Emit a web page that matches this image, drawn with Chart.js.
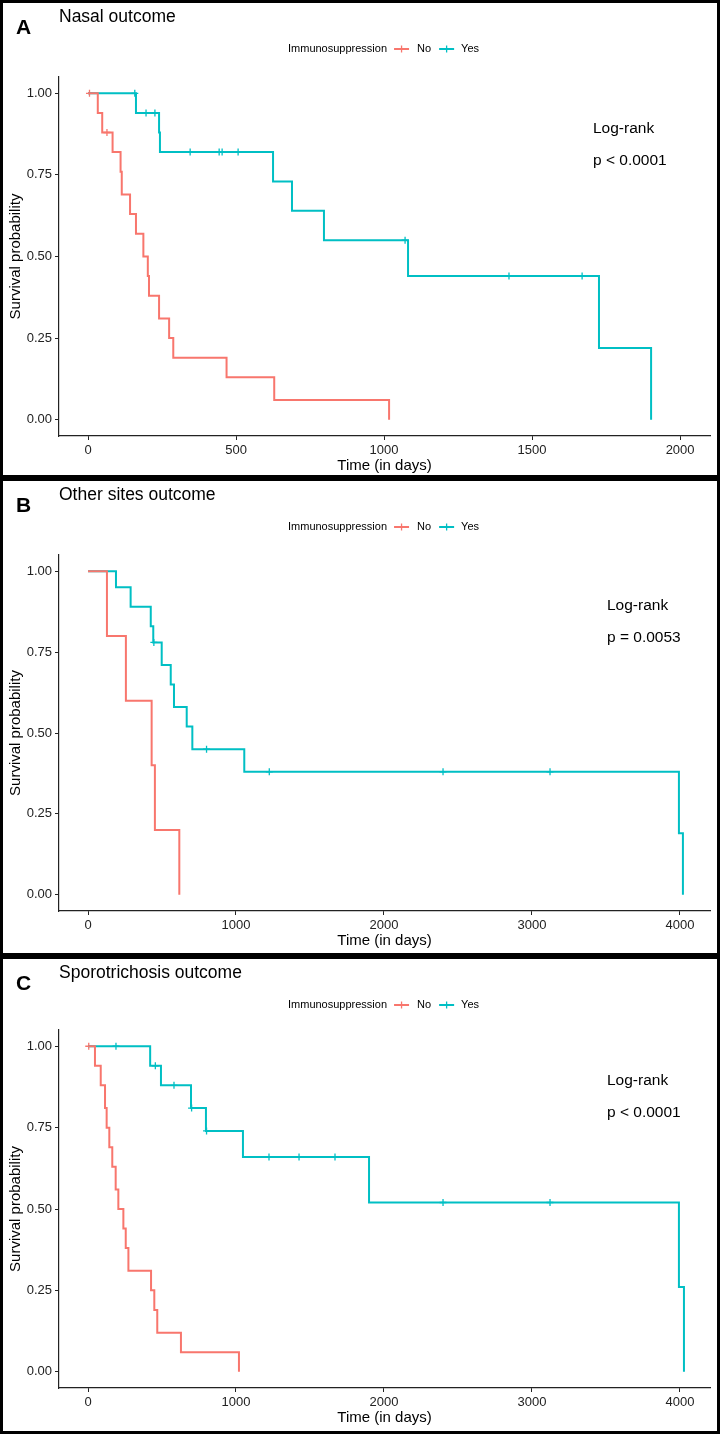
<!DOCTYPE html>
<html>
<head>
<meta charset="utf-8">
<script src="https://cdn.jsdelivr.net/npm/chart.js@4.4.1/dist/chart.umd.min.js"></script>
<style>
  html, body { margin: 0; padding: 0; background: #fff; }
  #page { position: relative; width: 720px; height: 1434px; }
  .panel { position: absolute; left: 0; width: 720px; height: 478px; box-sizing: border-box; border: 3px solid #000; background: #fff; }
  .panel canvas { position: absolute; left: 0; top: 0; width: 714px; height: 472px; }
</style>
</head>
<body>
<div id="page">
  <div class="panel" style="top:0"><canvas id="chartA" width="714" height="472"></canvas></div>
  <div class="panel" style="top:478px"><canvas id="chartB" width="714" height="472"></canvas></div>
  <div class="panel" style="top:956px"><canvas id="chartC" width="714" height="472"></canvas></div>
</div>
<script>
// ---- data (time in days, survival probability) ----

// A: nasal
const nasalNoTime = [0, 33, 48, 83, 110, 114, 142, 162, 187, 202, 206, 240, 274, 288, 468, 629, 1017]
const nasalNoSurv = [1, 0.94, 0.88, 0.82, 0.76, 0.69, 0.63, 0.57, 0.50, 0.44, 0.38, 0.31, 0.25, 0.19, 0.13, 0.06, 0]
const nasalNoCens = [5, 64]
const nasalYesTime = [0, 162, 240, 243, 625, 689, 797, 1081, 1726, 1902]
const nasalYesSurv = [1, 0.94, 0.88, 0.82, 0.73, 0.64, 0.55, 0.44, 0.22, 0]
const nasalYesCens = [158, 196, 226, 345, 443, 453, 507, 1071, 1422, 1669]
const nasalTicks = [0, 500, 1000, 1500, 2000]

// B: other sites
const otherNoTime = [0, 128, 256, 430, 452, 617]
const otherNoSurv = [1, 0.8, 0.6, 0.4, 0.2, 0]
const otherNoCens = []
const otherYesTime = [0, 189, 288, 424, 441, 498, 559, 581, 667, 705, 1056, 3993, 4020]
const otherYesSurv = [1, 0.95, 0.89, 0.83, 0.78, 0.71, 0.65, 0.58, 0.52, 0.45, 0.38, 0.19, 0]
const otherYesCens = [445, 801, 1225, 2399, 3122]
const otherTicks = [0, 1000, 2000, 3000, 4000]

// C: sporotrichosis
const sporoNoTime = [0, 47, 86, 115, 126, 144, 164, 187, 205, 239, 255, 273, 426, 448, 468, 628, 1020]
const sporoNoSurv = [1, 0.94, 0.88, 0.81, 0.75, 0.69, 0.63, 0.56, 0.50, 0.44, 0.38, 0.31, 0.25, 0.19, 0.12, 0.06, 0]
const sporoNoCens = [5]
const sporoYesTime = [0, 420, 493, 696, 797, 1047, 1899, 3993, 4027]
const sporoYesSurv = [1, 0.94, 0.88, 0.81, 0.74, 0.66, 0.52, 0.26, 0]
const sporoYesCens = [189, 455, 581, 700, 801, 1223, 1426, 1669, 2399, 3122]
const sporoTicks = [0, 1000, 2000, 3000, 4000]

const yTicks = [0, 0.25, 0.5, 0.75, 1]

// ---- styling ----
const FONT = "'Liberation Sans', Arial, sans-serif"
const RED = '#F8766D'
const CYAN = '#00BFC4'
const AXIS = '#222'

const panels = [
  { canvas: 'chartA', letter: 'A', title: 'Nasal outcome', pText: 'p < 0.0001',
    no: [nasalNoTime, nasalNoSurv, nasalNoCens], yes: [nasalYesTime, nasalYesSurv, nasalYesCens],
    xMin: -98, xMax: 2101, xTicks: nasalTicks, top: 74, axisH: 39, pX: 590, pY: 130, xTitleY: 467 },
  { canvas: 'chartB', letter: 'B', title: 'Other sites outcome', pText: 'p = 0.0053',
    no: [otherNoTime, otherNoSurv, otherNoCens], yes: [otherYesTime, otherYesSurv, otherYesCens],
    xMin: -196, xMax: 4203, xTicks: otherTicks, top: 74, axisH: 42, pX: 604, pY: 129, xTitleY: 464 },
  { canvas: 'chartC', letter: 'C', title: 'Sporotrichosis outcome', pText: 'p < 0.0001',
    no: [sporoNoTime, sporoNoSurv, sporoNoCens], yes: [sporoYesTime, sporoYesSurv, sporoYesCens],
    xMin: -196, xMax: 4203, xTicks: sporoTicks, top: 71, axisH: 43, pX: 604, pY: 126, xTitleY: 463 },
]

// survival at time t from the step curve
const survAt = (times, surv, t) => {
  let s = surv[0]
  times.forEach((tt, i) => { if (tt <= t) s = surv[i] })
  return s
}

const curve = (times, surv, color) => ({
  data: times.map((t, i) => ({ x: t, y: surv[i] })),
  borderColor: color,
  borderWidth: 2,
  stepped: true,
  pointRadius: 0,
  fill: false,
})

const censMarks = (times, surv, cens, color) => ({
  data: cens.map(t => ({ x: t, y: survAt(times, surv, t) })),
  showLine: false,
  pointStyle: 'cross',
  pointRadius: 3.5,
  borderColor: color,
  pointBorderWidth: 1.3,
})

const textPlugin = {
  id: 'panelText',
  afterDraw (chart, args, opts) {
    const { ctx, chartArea } = chart
    ctx.save()
    ctx.fillStyle = '#000'
    ctx.textBaseline = 'alphabetic'
    ctx.textAlign = 'left'

    ctx.font = `bold 21px ${FONT}`
    ctx.fillText(opts.letter, 13, 31)
    ctx.font = `17.5px ${FONT}`
    ctx.fillText(opts.title, 56, 19)

    // legend: Immunosuppression  -+- No  -+- Yes
    ctx.font = `11px ${FONT}`
    ctx.textBaseline = 'middle'
    const ly = 46
    let x = 285
    const key = color => {
      ctx.strokeStyle = color
      ctx.lineWidth = 2
      ctx.beginPath()
      ctx.moveTo(x, ly); ctx.lineTo(x + 15, ly)
      ctx.stroke()
      ctx.lineWidth = 1.3
      ctx.beginPath()
      ctx.moveTo(x + 7.5, ly - 3.5); ctx.lineTo(x + 7.5, ly + 3.5)
      ctx.stroke()
    }
    ctx.fillText('Immunosuppression', x, ly)
    x += ctx.measureText('Immunosuppression').width + 7
    key(RED)
    x += 23
    ctx.fillText('No', x, ly)
    x += ctx.measureText('No').width + 8
    key(CYAN)
    x += 22
    ctx.fillText('Yes', x, ly)

    // log-rank annotation
    ctx.textBaseline = 'alphabetic'
    ctx.font = `15.5px ${FONT}`
    ctx.fillText('Log-rank', opts.pX, opts.pY)
    ctx.fillText(opts.pText, opts.pX, opts.pY + 32)

    // axis titles
    ctx.font = `15px ${FONT}`
    ctx.textAlign = 'center'
    ctx.fillText('Time (in days)', (chartArea.left + chartArea.right) / 2, opts.xTitleY)
    ctx.translate(13, (chartArea.top + chartArea.bottom) / 2)
    ctx.rotate(-Math.PI / 2)
    ctx.textBaseline = 'middle'
    ctx.fillText('Survival probability', 0, 0)
    ctx.restore()
  },
}

panels.forEach(p => {
  const [noT, noS, noC] = p.no
  const [yesT, yesS, yesC] = p.yes
  new Chart(document.getElementById(p.canvas), {
    type: 'line',
    data: {
      datasets: [
        curve(noT, noS, RED),
        curve(yesT, yesS, CYAN),
        censMarks(noT, noS, noC, RED),
        censMarks(yesT, yesS, yesC, CYAN),
      ],
    },
    plugins: [textPlugin],
    options: {
      responsive: false,
      animation: false,
      layout: { padding: { left: 0, top: p.top, right: 7, bottom: 0 } },
      plugins: {
        legend: { display: false },
        tooltip: { enabled: false },
        panelText: p,
      },
      scales: {
        x: {
          type: 'linear',
          min: p.xMin,
          max: p.xMax,
          afterBuildTicks: s => { s.ticks = p.xTicks.map(v => ({ value: v })) },
          afterFit: s => { s.height = p.axisH },
          ticks: { color: AXIS, font: { family: FONT, size: 13 }, padding: 3, maxRotation: 0, autoSkip: false, callback: v => String(v) },
          grid: { display: true, drawOnChartArea: false, drawTicks: true, tickLength: 4, tickColor: AXIS },
          border: { display: true, color: AXIS, width: 1.2 },
        },
        y: {
          min: -0.05,
          max: 1.05,
          afterBuildTicks: s => { s.ticks = yTicks.map(v => ({ value: v })) },
          afterFit: s => { s.width = 56 },
          ticks: { color: AXIS, font: { family: FONT, size: 13 }, padding: 3, callback: v => v.toFixed(2) },
          grid: { display: true, drawOnChartArea: false, drawTicks: true, tickLength: 4, tickColor: AXIS },
          border: { display: true, color: AXIS, width: 1.2 },
        },
      },
    },
  })
})
</script>
</body>
</html>
